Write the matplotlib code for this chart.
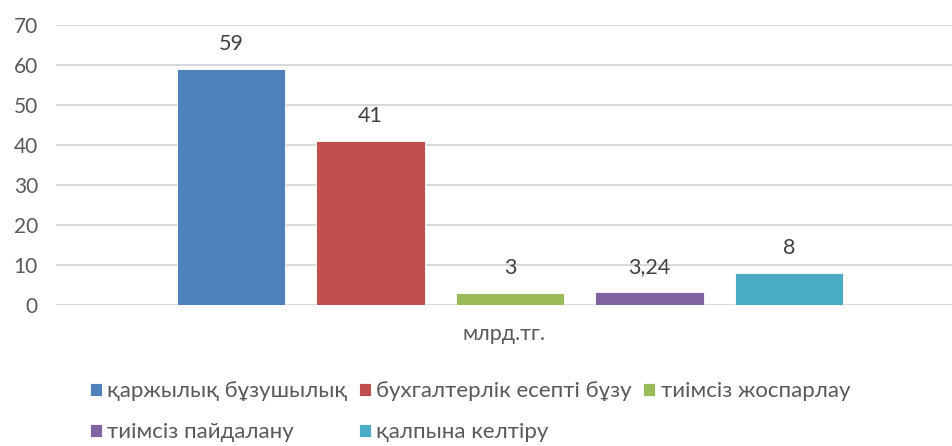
import numpy as np
import matplotlib.pyplot as plt

plt.rcParams['font.family'] = ['Lato', 'DejaVu Sans']

categories = ['қаржылық бұзушылық', 'бухгалтерлік есепті бұзу', 'тиімсіз жоспарлау',
              'тиімсіз пайдалану', 'қалпына келтіру']
values = [59, 41, 3, 3.24, 8]
colors = ['#4F81BD', '#C0504D', '#9BBB59', '#8064A2', '#4BACC6']
group_label = 'млрд.тг.'
yticks = [0, 10, 20, 30, 40, 50, 60, 70]

fig = plt.figure(figsize=(9.53, 4.46), dpi=100)
ax = fig.add_axes([0.0588, 0.316, 0.9412, 0.628])

x = np.arange(len(values))
handles = []
for i in range(len(values)):
    b = ax.bar(x[i], values[i], width=0.78, color=colors[i], edgecolor='white',
               linewidth=0.6, zorder=3, label=categories[i])
    handles.append(b)
    lab = ('%g' % values[i]).replace('.', ',')
    ax.annotate(lab, (x[i], values[i]), xytext=(0, 11), textcoords='offset points',
                ha='center', va='bottom', fontsize=15.5, color='#404040')

ax.set_xlim(-1.254, 5.176)
ax.set_ylim(0, 70)
ax.set_yticks(yticks)
ax.set_xticks([])
ax.grid(axis='y', color='#D9D9D9', linewidth=1.5, zorder=0)
for s in ax.spines.values():
    s.set_visible(False)
ax.tick_params(axis='y', length=0, pad=13, labelsize=15, labelcolor='#595959')
ax.text(0.5, -0.105, group_label, transform=ax.transAxes, ha='center', va='center',
        fontsize=15.5, color='#595959')

# row-wise order for a 3-column legend
order = [0, 3, 1, 4, 2]
leg = fig.legend([handles[i] for i in order], [categories[i] for i in order],
                 ncol=3, loc='center left', bbox_to_anchor=(0.094, 0.077),
                 frameon=False, fontsize=16, handlelength=0.55, handleheight=0.55,
                 handletextpad=0.25, columnspacing=0.5, labelspacing=0.95,
                 borderpad=0, borderaxespad=0, labelcolor='#595959')

fig.savefig('out.png', dpi=100)
